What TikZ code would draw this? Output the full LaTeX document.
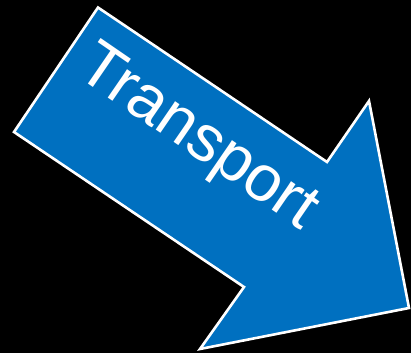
\documentclass[tikz,border=0pt]{standalone}
\usepackage{fontspec}
\setmainfont{Liberation Sans}
\definecolor{arrowblue}{HTML}{0070C0}

\begin{document}
\begin{tikzpicture}[
			x=1pt, y=-1pt,
			arrowbody/.style={draw=white, fill=arrowblue, line width=2.6pt, line join=miter},
			caption/.style={text=white, font=\fontsize{65}{67}\selectfont, rotate=-34.5, inner sep=0pt}
			]

			\fill[black] (0,0) rectangle (411,353);
			\useasboundingbox (0,0) rectangle (411,353);

			% corners of the arrow
			\coordinate (tl) at (98,7.5);
			\coordinate (bl) at (14,132);
			\coordinate (notchtop) at (327,162);
			\coordinate (headtop) at (369,101);
			\coordinate (tip) at (409,308);
			\coordinate (headbot) at (200,349);
			\coordinate (notchbot) at (244,287);

			\draw[arrowbody] (tl) -- (notchtop) -- (headtop) -- (tip) -- (headbot) -- (notchbot) -- (bl) -- cycle;

			\node[caption, anchor=base west] (label) at (74,74) {Transport};

		\end{tikzpicture}
\end{document}
